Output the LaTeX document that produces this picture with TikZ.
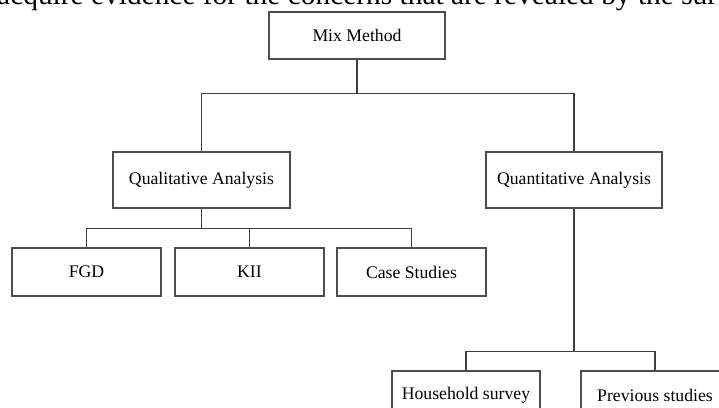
\documentclass[tikz,border=0pt]{standalone}
\usepackage{fontspec}
\setmainfont{Liberation Serif}
\usetikzlibrary{positioning, calc}

\begin{document}
\begin{tikzpicture}[x=1pt, y=-1pt,
    box/.style={draw=black!70, line width=1.2pt, inner sep=0pt,
      minimum width=149pt, minimum height=48pt,
      font=\fontsize{17.7}{20}\selectfont},
    link/.style={draw=black!75, line width=1.2pt}]
    % page size of the cut-out
    \useasboundingbox (0,0) rectangle (719,407);
    \clip (0,0) rectangle (719,407);
    % line of body text cut at the top
    \node[anchor=base west, inner sep=0pt, font=\fontsize{29.4}{31}\selectfont]
      (txt) at (-3,4.5) {acquire evidence for the concerns that are revealed by the sur};
    % top level
    \node[box, minimum width=176pt, minimum height=47pt] (mix) at (357,35.5) {Mix Method};
    % second level
    \node[box, minimum width=177pt, minimum height=56pt] (qual) at (201.5,180) {Qualitative Analysis};
    \node[box, minimum width=176pt, minimum height=56pt] (quant) at (574,180) {Quantitative Analysis};
    % qualitative tools
    \node[box] (fgd) at (86.5,272) {FGD};
    \node[box] (kii) at (249.5,272) {KII};
    \node[box] (case) at (411.5,272) {Case Studies};
    % quantitative tools
    \node[box, minimum width=148pt] (house) at (466,395) {Household survey};
    \node[box, minimum width=148pt] (prev) at (655,395) {Previous studies};
    % branch points
    \coordinate (b1) at ($(mix.south)+(0,34)$);
    \coordinate (b2) at ($(qual.south)+(0,20)$);
    \coordinate (b3) at ($(quant.south)+(0,143)$);
    % connectors
    \draw[link] (mix.south) -- (b1);
    \draw[link] (qual.north) |- (b1) -| (quant.north);
    \draw[link] (qual.south) -- (b2);
    \draw[link] (fgd.north) |- (b2) -| (case.north);
    \draw[link] (kii.north) -- (kii.north |- b2);
    \draw[link] (quant.south) -- (b3);
    \draw[link] (house.north) |- (b3) -| (prev.north);
\end{tikzpicture}
\end{document}
